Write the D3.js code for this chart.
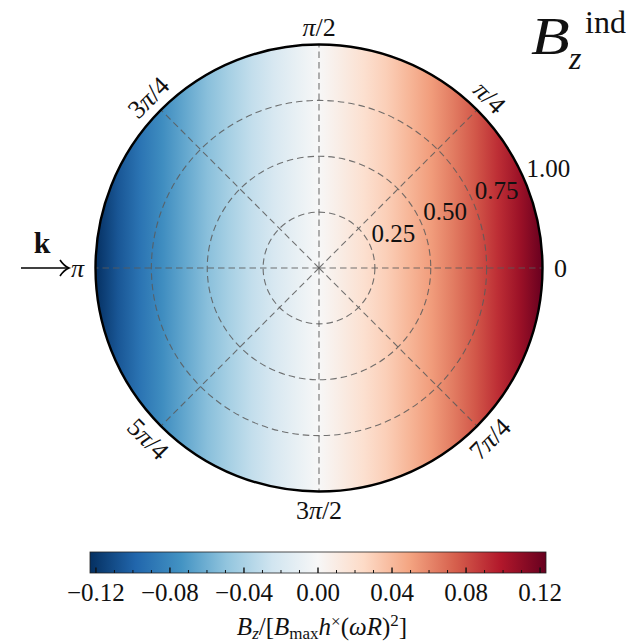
<!DOCTYPE html>
<html>
<head>
<meta charset="utf-8">
<script src="https://cdn.jsdelivr.net/npm/d3@7"></script>
<style>
  body { margin: 0; background: #fff; }
  text { font-family: "Liberation Serif", "DejaVu Serif", serif; fill: #111; }
</style>
</head>
<body>
<div id="chart"></div>
<script>
const width = 626;
const height = 644;

// field profile along x = r cos(theta)
const profileX = [-1, -0.9, -0.8, -0.7, -0.6, -0.5, -0.4, -0.3, -0.2, -0.1, 0,
  0.1, 0.2, 0.3, 0.4, 0.5, 0.6, 0.7, 0.8, 0.9, 1];
const profileBz = [-0.123, -0.106, -0.091, -0.077, -0.064, -0.052, -0.041, -0.030, -0.020, -0.010, 0,
  0.010, 0.020, 0.030, 0.041, 0.052, 0.064, 0.077, 0.091, 0.106, 0.123];

const radialTicks = [0.25, 0.5, 0.75, 1.0];
const radialLabels = ["0.25", "0.50", "0.75", "1.00"];
const angleTicks = [0, 45, 90, 135, 180, 225, 270, 315];
const angleLabels = ["0", "π/4", "π/2", "3π/4", "π", "5π/4", "3π/2", "7π/4"];

const cbarTicks = [-0.12, -0.08, -0.04, 0, 0.04, 0.08, 0.12];
const cbarLabels = ["\u22120.12", "\u22120.08", "\u22120.04", "0.00", "0.04", "0.08", "0.12"];
const cbarMinor = d3.range(-12, 13).map(d => d / 100);
const bzMax = 0.1232;

// matplotlib RdBu_r
const rdbu = ["#053061", "#2166ac", "#4393c3", "#92c5de", "#d1e5f0", "#f7f7f7",
  "#fddbc7", "#f4a582", "#d6604d", "#b2182b", "#67001f"];

const color = d3.scaleLinear()
  .domain(rdbu.map((c, i) => -bzMax + 2 * bzMax * i / (rdbu.length - 1)))
  .range(rdbu)
  .clamp(true);

const cx = 319, cy = 268, R = 223.5;
const r = d3.scaleLinear().domain([0, 1]).range([0, R]);

const svg = d3.select("#chart").append("svg")
  .attr("width", width)
  .attr("height", height);

const defs = svg.append("defs");

// field gradient across the disc
const xField = d3.scaleLinear().domain([-1, 1]).range([0, 1]);
const fieldGrad = defs.append("linearGradient")
  .attr("id", "field")
  .attr("gradientUnits", "userSpaceOnUse")
  .attr("x1", cx - R).attr("x2", cx + R)
  .attr("y1", cy).attr("y2", cy);
fieldGrad.selectAll("stop")
  .data(profileX)
  .enter().append("stop")
  .attr("offset", d => xField(d))
  .attr("stop-color", (d, i) => color(profileBz[i]));

const polar = svg.append("g").attr("transform", `translate(${cx},${cy})`);

polar.append("circle")
  .attr("r", r(1))
  .attr("fill", "url(#field)")
  .attr("transform", `translate(${-cx},${-cy})`)
  .attr("cx", cx).attr("cy", cy);

// grid
const gridStyle = sel => sel
  .attr("fill", "none")
  .attr("stroke", "#5a5a5a")
  .attr("stroke-opacity", 0.85)
  .attr("stroke-width", 1.1)
  .attr("stroke-dasharray", "6.5,4");

polar.selectAll("circle.grid")
  .data(radialTicks.slice(0, 3))
  .enter().append("circle")
  .attr("class", "grid")
  .attr("r", d => r(d))
  .call(gridStyle);

const rad = a => a * Math.PI / 180;

polar.selectAll("line.grid")
  .data(angleTicks)
  .enter().append("line")
  .attr("class", "grid")
  .attr("x1", 0).attr("y1", 0)
  .attr("x2", d => r(1) * Math.cos(rad(d)))
  .attr("y2", d => -r(1) * Math.sin(rad(d)))
  .call(gridStyle);

// outer frame
polar.append("circle")
  .attr("r", r(1))
  .attr("fill", "none")
  .attr("stroke", "#000")
  .attr("stroke-width", 2.4);

// angle labels
const labelR = r(1) + 18;
polar.selectAll("text.ang")
  .data(angleTicks)
  .enter().append("text")
  .attr("class", "ang")
  .attr("font-size", 26)
  .attr("text-anchor", "middle")
  .attr("dominant-baseline", "central")
  .attr("transform", d => {
    const x = labelR * Math.cos(rad(d));
    const y = -labelR * Math.sin(rad(d));
    let rot = 0;
    if (d === 45 || d === 225) rot = 45;
    if (d === 135 || d === 315) rot = -45;
    return `translate(${x},${y}) rotate(${rot})`;
  })
  .each(function (d, i) {
    const t = d3.select(this);
    const lab = angleLabels[i];
    // italic pi, roman digits
    lab.split(/(π)/).filter(s => s.length).forEach(s => {
      t.append("tspan")
        .attr("font-style", s === "π" ? "italic" : null)
        .text(s);
    });
  });

// radial labels at 22.5 deg
polar.selectAll("text.rad")
  .data(radialTicks)
  .enter().append("text")
  .attr("class", "rad")
  .attr("font-size", 25)
  .attr("x", d => r(d) * Math.cos(rad(22.5)) + 1)
  .attr("y", d => -r(d) * Math.sin(rad(22.5)) - 5)
  .text((d, i) => radialLabels[i]);

// incident wave vector k
const arrow = svg.append("g");
arrow.append("line")
  .attr("x1", 21).attr("x2", 68)
  .attr("y1", cy).attr("y2", cy)
  .attr("stroke", "#000").attr("stroke-width", 1.6);
arrow.append("path")
  .attr("d", `M60,${cy - 8} Q64,${cy - 2} 69,${cy} Q64,${cy + 2} 60,${cy + 8}`)
  .attr("fill", "none").attr("stroke", "#000").attr("stroke-width", 1.6);
arrow.append("text")
  .attr("x", 42).attr("y", 253)
  .attr("text-anchor", "middle")
  .attr("font-size", 30)
  .attr("font-weight", "bold")
  .text("k");

// title B_z^ind
const title = svg.append("g");
title.append("text")
  .attr("x", 531).attr("y", 54)
  .attr("font-size", 52)
  .attr("font-style", "italic")
  .attr("transform", "translate(531,0) scale(1.22,1) translate(-531,0)")
  .text("B");
title.append("text")
  .attr("x", 585).attr("y", 33)
  .attr("font-size", 32)
  .text("ind");
title.append("text")
  .attr("x", 569).attr("y", 69)
  .attr("font-size", 32)
  .attr("font-style", "italic")
  .text("z");

// colorbar
const cbX0 = 90, cbX1 = 546, cbY = 552, cbH = 21;
const xc = d3.scaleLinear().domain([-bzMax, bzMax]).range([cbX0, cbX1]);

const cbGrad = defs.append("linearGradient")
  .attr("id", "cbar")
  .attr("gradientUnits", "userSpaceOnUse")
  .attr("x1", cbX0).attr("x2", cbX1)
  .attr("y1", 0).attr("y2", 0);
cbGrad.selectAll("stop")
  .data(color.domain())
  .enter().append("stop")
  .attr("offset", d => (xc(d) - cbX0) / (cbX1 - cbX0))
  .attr("stop-color", d => color(d));

svg.append("rect")
  .attr("x", cbX0).attr("y", cbY)
  .attr("width", cbX1 - cbX0).attr("height", cbH)
  .attr("fill", "url(#cbar)")
  .attr("stroke", "#222")
  .attr("stroke-width", 0.8);

svg.append("g").selectAll("line")
  .data(cbarMinor)
  .enter().append("line")
  .attr("x1", d => xc(d)).attr("x2", d => xc(d))
  .attr("y1", cbY + cbH)
  .attr("y2", d => cbY + cbH - (cbarTicks.some(t => Math.abs(t - d) < 1e-9) ? 5.5 : 3))
  .attr("stroke", "#111")
  .attr("stroke-width", d => cbarTicks.some(t => Math.abs(t - d) < 1e-9) ? 1.4 : 1);

svg.append("g").selectAll("text")
  .data(cbarTicks)
  .enter().append("text")
  .attr("x", d => xc(d))
  .attr("y", 601)
  .attr("text-anchor", "middle")
  .attr("font-size", 25)
  .text((d, i) => cbarLabels[i]);

// colorbar label B_z/[B_max h^x (wR)^2]
const cl = svg.append("text")
  .attr("x", 322).attr("y", 635)
  .attr("text-anchor", "middle")
  .attr("font-size", 25);
cl.append("tspan").attr("font-style", "italic").text("B");
cl.append("tspan").attr("font-style", "italic").attr("font-size", 17).attr("dy", 4).text("z");
cl.append("tspan").attr("dy", -4).text("/[");
cl.append("tspan").attr("font-style", "italic").text("B");
cl.append("tspan").attr("font-size", 17).attr("dy", 4).text("max");
cl.append("tspan").attr("font-style", "italic").attr("dy", -4).text("h");
cl.append("tspan").attr("font-size", 17).attr("dy", -8).text("×");
cl.append("tspan").attr("dy", 8).text("(");
cl.append("tspan").attr("font-style", "italic").text("ωR");
cl.append("tspan").text(")");
cl.append("tspan").attr("font-size", 17).attr("dy", -9).text("2");
cl.append("tspan").attr("dy", 9).text("]");
</script>
</body>
</html>
